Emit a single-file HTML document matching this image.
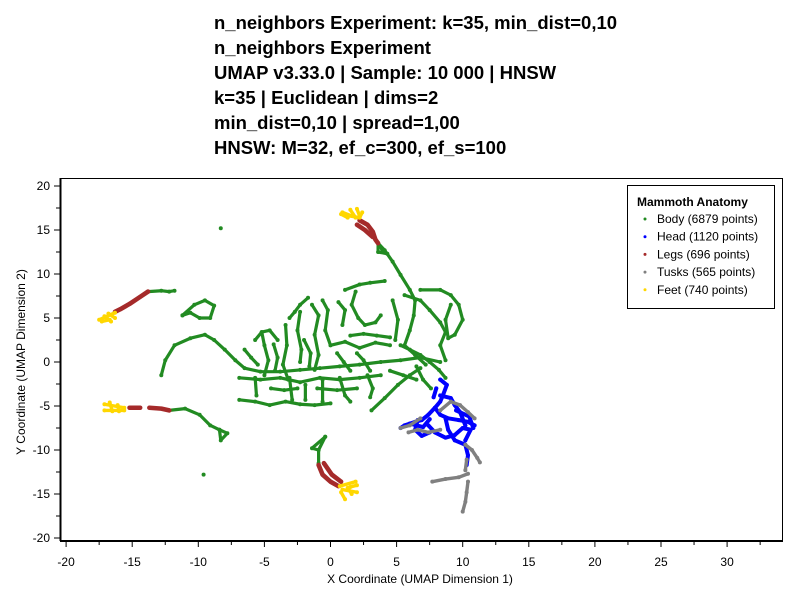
<!DOCTYPE html>
<html><head><meta charset="utf-8"><style>
body{margin:0;background:#fff;}
svg{display:block;font-family:"Liberation Sans",sans-serif;}
</style></head><body>
<svg id="chart" width="800" height="600" viewBox="0 0 800 600">
<g font-weight="bold" font-size="18.5" fill="#000">
<text x="214" y="29">n_neighbors Experiment: k=35, min_dist=0,10</text>
<text x="214" y="54">n_neighbors Experiment</text>
<text x="214" y="79">UMAP v3.33.0 | Sample: 10 000 | HNSW</text>
<text x="214" y="104">k=35 | Euclidean | dims=2</text>
<text x="214" y="129">min_dist=0,10 | spread=1,00</text>
<text x="214" y="154">HNSW: M=32, ef_c=300, ef_s=100</text>
</g>
<rect x="60.5" y="178.5" width="722" height="362" fill="none" stroke="#000" stroke-width="1"/>
<line x1="60.5" y1="178" x2="60.5" y2="541" stroke="#000" stroke-width="2"/>
<line x1="60" y1="541" x2="783" y2="541" stroke="#000" stroke-width="2"/>
<g id="axes"></g>
<g id="marks"></g>
<text x="420" y="583" text-anchor="middle" font-size="12">X Coordinate (UMAP Dimension 1)</text>
<text transform="translate(25,362) rotate(-90)" text-anchor="middle" font-size="12">Y Coordinate (UMAP Dimension 2)</text>
<g>
<rect x="627.5" y="185.5" width="147" height="123" fill="#fff" stroke="#000" stroke-width="1"/>
<text x="637" y="206" font-size="12" font-weight="bold">Mammoth Anatomy</text>
<g id="legend-items"></g>
</g>
</svg>
<script>
const xTicks = [-20,-15,-10,-5,0,5,10,15,20,25,30];
const yTicks = [-20,-15,-10,-5,0,5,10,15,20];
const seriesNames = ["Body (6879 points)","Head (1120 points)","Legs (696 points)","Tusks (565 points)","Feet (740 points)"];
const seriesColors = ["#228B22","#0000FF","#A52A2A","#808080","#FFD700"];
const bodyStrands = [
[[3.6,13.5],[4.1,12.7],[4.7,11.4],[5.3,9.9],[6.0,8.2],[6.4,7.0],[6.3,5.3],[6.0,3.6],[5.6,1.9],[6.4,0.8],[7.2,-0.3]],
[[3.6,13.5],[3.9,12.8],[4.3,12.3],[3.6,12.5],[3.6,13.5]],
[[-13.8,8.0],[-12.8,8.1],[-12.2,8.0],[-11.8,8.1]],
[[-11.2,5.3],[-10.3,6.5],[-9.5,7.0],[-8.8,6.4],[-9.1,5.0],[-9.9,5.0],[-10.6,5.6],[-11.2,5.3]],
[[-12.8,-1.5],[-12.5,0.2],[-11.8,1.9],[-10.6,2.7],[-9.5,3.1],[-8.8,2.5],[-8.0,1.4],[-7.2,0.2],[-6.5,-0.7],[-5.3,-1.1],[-3.8,-1.1],[-2.3,-0.9],[-0.8,-0.7],[0.7,-0.5],[2.2,-0.3],[3.8,0],[5.3,0.2],[6.8,0.5],[8.3,0]],
[[-6.9,-1.8],[-5.3,-2.0],[-3.8,-1.8],[-2.3,-2.3],[-0.8,-1.8],[0.7,-2.0],[2.2,-1.8],[3.8,-1.5]],
[[0,1.9],[1.1,2.3],[2.2,1.6],[3.4,2.2],[4.5,1.9]],
[[-5.2,3.4],[-5.0,1.9],[-4.7,0.2],[-5.0,-1.5]],
[[-3.4,4.2],[-3.3,1.9],[-3.6,-0.3],[-3.2,-2.0]],
[[-2.3,5.7],[-2.5,3.6],[-2.2,1.4],[-2.3,0]],
[[-1.4,6.5],[-0.9,5.3],[-1.2,3.1],[-0.9,0.8],[-1.2,-0.9]],
[[-0.6,7.0],[-0.2,5.9],[-0.4,3.6],[0,1.9]],
[[0.6,6.8],[1.1,5.9],[0.9,4.2]],
[[1.9,8.0],[1.6,6.5],[2.1,5.0],[2.6,4.2],[3.4,4.5],[3.8,5.3]],
[[1.1,8.2],[2.2,8.8],[3.0,9.0],[4.1,9.2]],
[[4.7,7.0],[5.1,4.8],[4.9,2.5]],
[[5.6,7.6],[6.8,7.0],[7.5,5.9],[8.3,4.5],[8.7,3.4],[8.3,1.9],[8.7,0.2]],
[[6.8,8.2],[8.3,8.2],[9.1,7.6],[9.7,6.5],[10.0,4.8],[9.4,3.1],[8.9,2.7],[8.7,4.8],[9.1,6.5]],
[[5.3,1.9],[6.0,1.4],[6.8,0.8],[7.5,0],[8.2,-0.9],[8.7,-1.8]],
[[3.1,-5.5],[4.1,-4.1],[5.1,-2.6],[6.0,-1.5],[6.8,-0.7]],
[[-6.9,-4.3],[-5.7,-4.5],[-4.6,-4.9],[-3.4,-4.5],[-2.3,-4.8],[-1.2,-4.9],[0,-4.7]],
[[-5.7,-1.8],[-5.6,-3.8]],
[[-3.1,-1.8],[-2.9,-4.3]],
[[-0.6,-2.0],[-0.6,-4.5]],
[[0.7,-1.8],[1.1,-3.8],[1.5,-4.5]],
[[-1.9,-2.6],[-1.9,-4.3]],
[[-5.7,2.5],[-5.2,3.4],[-4.6,3.6],[-4.0,2.5]],
[[-3.1,5.0],[-2.7,5.7],[-2.3,6.5],[-1.7,7.3]],
[[-12.2,-5.5],[-11.0,-5.3],[-9.9,-6.0],[-9.1,-7.2],[-8.4,-7.7],[-7.8,-8.1],[-8.3,-8.9],[-8.4,-7.7]],
[[-0.4,-8.5],[-1.4,-9.8],[-0.9,-10.0],[-0.4,-8.5]],
[[-0.9,-10.0],[-0.9,-11.5]],
[[-6.5,1.4],[-6.0,0.5],[-5.5,-0.3]],
[[-4.3,2.0],[-4.0,0.5],[-4.2,-1.0]],
[[-2.0,2.5],[-1.5,1.0],[-1.6,-0.5]],
[[0.5,1.0],[1.0,0.0],[1.5,-1.0]],
[[2.0,1.0],[2.5,0.2],[3.0,-1.0]],
[[2.8,-1.5],[3.2,-3.0],[3.0,-4.0]],
[[4.5,-1.0],[5.5,-1.5],[6.5,-2.0]],
[[1.5,3.0],[2.5,3.2],[3.5,3.0],[4.5,2.8]],
[[6.5,-0.5],[7.0,-2.0],[7.6,-3.0]],
[[-1.0,-3.0],[0.5,-3.2],[2.0,-3.0]],
[[-4.5,-3.0],[-3.5,-3.2],[-2.5,-3.0]],
[[-8.3,15.2]],
[[-9.6,-12.8]]
];
const headStrands = [
[[8.3,-2.0],[8.8,-2.6],[8.5,-3.8],[8.3,-4.5],[7.9,-5.2],[7.4,-6.0],[6.9,-6.6],[6.4,-6.8],[5.6,-7.2],[5.3,-7.5]],
[[7.9,-5.2],[8.3,-6.0],[8.9,-6.4],[9.7,-6.6],[10.4,-6.8],[10.9,-7.2]],
[[8.7,-6.4],[8.9,-7.7],[9.4,-8.9],[10.2,-9.4],[10.4,-10.6],[10.3,-11.7]],
[[7.4,-7.2],[7.9,-8.0],[8.7,-8.6],[9.4,-8.3],[10.0,-7.5],[10.6,-7.7],[10.2,-8.9]],
[[6.6,-6.6],[6.4,-7.7],[6.9,-8.4],[7.5,-8.0]],
[[9.4,-4.9],[9.8,-5.7],[10.2,-7.2]],
[[8.3,-3.8],[9.1,-4.1],[9.4,-4.9]],
[[6.0,-7.0],[7.0,-7.4],[7.5,-6.5]],
[[8.0,-3.0],[7.8,-4.0]],
[[9.5,-5.5],[10.5,-6.2],[10.8,-7.5]]
];
const legStrands = [
[[2.2,16.1],[2.8,15.6],[3.2,14.8],[3.4,13.9],[3.6,13.5]],
[[2.0,15.6],[2.6,15.0],[3.2,14.2]],
[[-13.8,8.0],[-14.4,7.4],[-15.2,6.6],[-15.9,6.0],[-16.3,5.7]],
[[-15.2,-5.2],[-14.4,-5.2]],
[[-13.7,-5.2],[-12.8,-5.3],[-12.2,-5.5]],
[[-0.9,-11.7],[-0.6,-12.8],[0,-13.6],[0.6,-14.1]],
[[-0.5,-11.5],[0.1,-12.8],[0.8,-13.6]]
];
const tuskStrands = [
[[8.3,-5.5],[9.1,-4.5],[9.8,-4.9],[10.4,-5.7],[10.9,-6.4]],
[[5.3,-7.5],[6.0,-7.2],[6.8,-6.4]],
[[5.9,-8.0],[6.6,-7.7],[7.4,-8.0],[8.3,-7.7]],
[[10.2,-9.4],[10.7,-10.0],[11.1,-10.9],[11.3,-11.4]],
[[10.3,-11.1],[10.2,-12.3]],
[[7.7,-13.6],[8.7,-13.3],[9.7,-13.1],[10.4,-12.7]],
[[10.4,-13.6],[10.3,-14.8],[10.2,-15.9],[10.0,-17.0]]
];
const feetStrands = [
[[1.1,16.7],[2.2,16.4]],[[1.5,17.3],[1.9,16.4]],[[0.8,16.8],[1.3,16.4]],[[2.0,17.4],[2.2,16.6]],[[2.4,17.0],[2.2,16.4]],[[0.9,17.0],[1.6,16.6]],
[[-17.5,4.8],[-16.3,5.6]],[[-17.1,5.2],[-16.6,4.6]],[[-16.8,5.5],[-16.3,5.0]],[[-17.3,4.6],[-16.7,4.8]],
[[-17.1,-4.8],[-15.6,-5.2]],[[-17.1,-5.5],[-15.6,-5.5]],[[-16.7,-4.6],[-16.5,-5.6]],[[-16.1,-4.9],[-16.0,-5.6]],
[[0.7,-14.1],[1.9,-13.6]],[[0.9,-14.5],[2.0,-14.8]],[[0.8,-14.8],[1.1,-15.6]],[[1.3,-14.3],[1.6,-15.0]],[[1.5,-14.2],[2.0,-14.0]]
];

const NS = "http://www.w3.org/2000/svg";
function sx(v){ return 330.5 + v*13.22; }
function sy(v){ return 362 - v*8.8; }
const axes = document.getElementById("axes");
function mk(tag, attrs, parent){ const e=document.createElementNS(NS,tag); for(const k in attrs) e.setAttribute(k,attrs[k]); parent.appendChild(e); return e; }
xTicks.forEach(function(t){
  const l = mk("line",{x1:sx(t),x2:sx(t),y1:541,y2:547,stroke:"#000","stroke-width":1},axes);
  
  
  const m = mk("line",{x1:sx(t+2.5),x2:sx(t+2.5),y1:541,y2:545,stroke:"#000","stroke-width":1},axes);
  
  
  const tx = mk("text",{x:sx(t),y:566,"text-anchor":"middle","font-size":12},axes);
  tx.textContent = String(t);
  
  
});
yTicks.forEach(function(t){
  const l = mk("line",{x1:54,x2:60,y1:sy(t),y2:sy(t),stroke:"#000","stroke-width":1},axes);
  
  
  if(t<20){
    const m = mk("line",{x1:56,x2:60,y1:sy(t+2.5),y2:sy(t+2.5),stroke:"#000","stroke-width":1},axes);
    
    
  }
  const tx = mk("text",{x:50,y:sy(t)+4,"text-anchor":"end","font-size":12},axes);
  tx.textContent = String(t);
  
  
});
const marks = document.getElementById("marks");
const allSeries = [bodyStrands, headStrands, legStrands, tuskStrands, feetStrands];
const seriesKeys = ["body","head","legs","tusks","feet"];
const widths = [3.2,4.0,4.6,3.4,3.4];
allSeries.forEach(function(strands, si){
  const g = mk("g",{},marks);
  
  
  strands.forEach(function(pts){
    if(pts.length>1){
      const pl = mk("polyline",{points:pts.map(function(p){return sx(p[0])+","+sy(p[1]);}).join(" "),fill:"none",stroke:seriesColors[si],"stroke-width":widths[si],"stroke-linecap":"round","stroke-linejoin":"round"},g);
      
      
    }
    pts.forEach(function(p){
      const c = mk("circle",{cx:sx(p[0]),cy:sy(p[1]),r:2,fill:seriesColors[si]},g);
      
      
    });
  });
});
const li = document.getElementById("legend-items");
seriesNames.forEach(function(n,i){
  const y = 223 + i*17.7;
  const c = mk("circle",{cx:645,cy:y-4,r:1.5,fill:seriesColors[i]},li);
  
  
  const t = mk("text",{x:657,y:y,"font-size":12},li);
  t.textContent = n;
  
  
});
</script>
</body></html>
